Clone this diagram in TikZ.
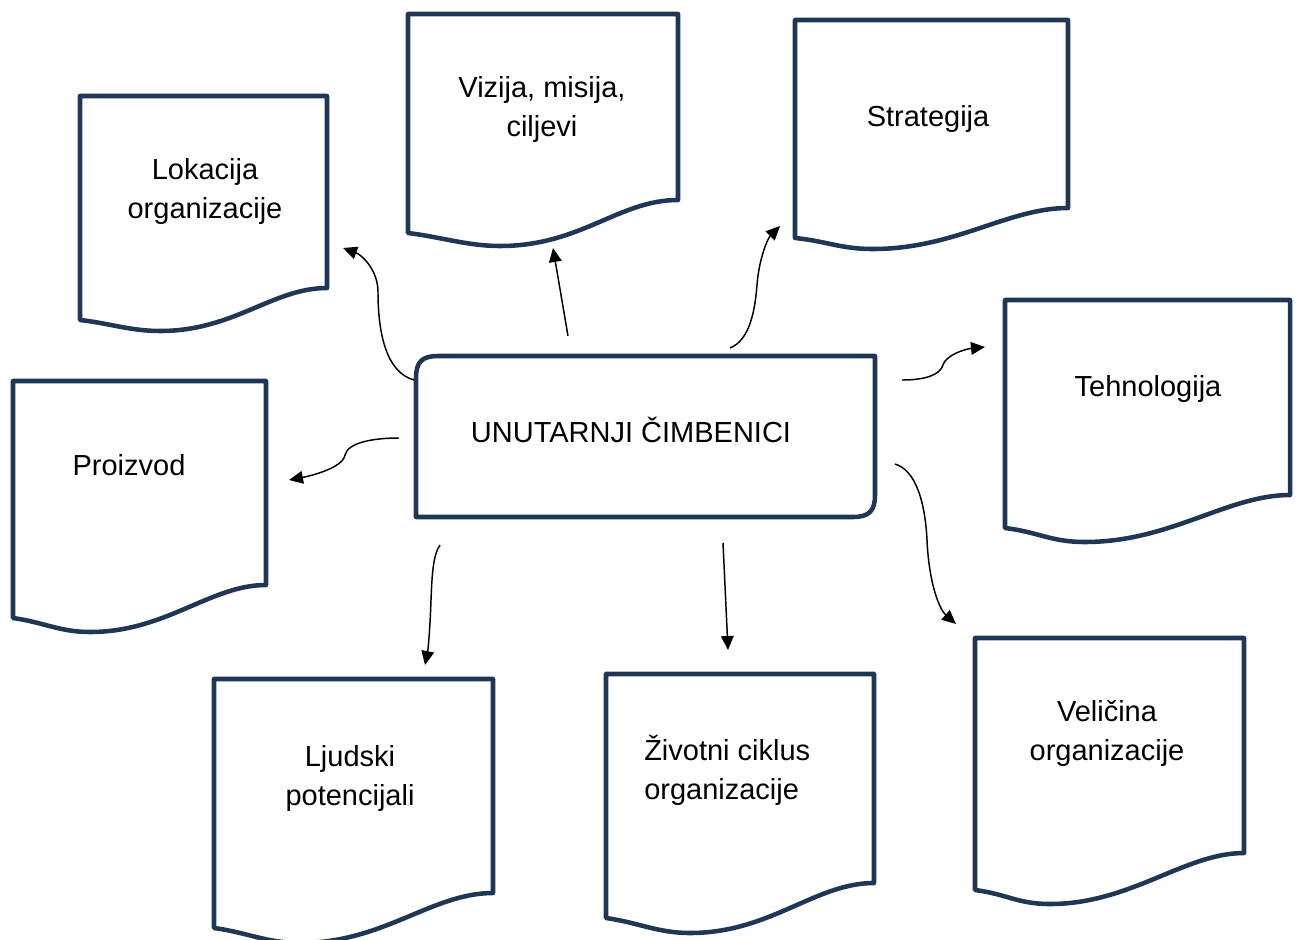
\documentclass[tikz,border=0pt]{standalone}
\usepackage{fontspec}
\setmainfont{Liberation Sans}
\usetikzlibrary{arrows.meta}
\definecolor{navy}{HTML}{1F3754}
\newcommand\docshape[7]{% L T R yR yL xM yM
  \draw[docline] (#1,#5) -- (#1,#2) -- (#3,#2) -- (#3,#4)
    .. controls ({#3-0.22*(#3-#1)},#4) and ({#6+0.3*(#3-#1)},#7) .. (#6,#7)
    .. controls ({#6-0.12*(#3-#1)},#7) and ({#1+0.12*(#3-#1)},{#5+0.3*(#7-#5)}) .. (#1,#5) -- cycle;}
\begin{document}
\begin{tikzpicture}[x=0.75pt,y=-0.75pt,
  docline/.style={draw=navy,line width=3.4pt,line join=round},
  lbl/.style={font=\fontsize{21.75}{29.25}\selectfont,align=center,inner sep=0pt},
  conn/.style={line width=1.1pt,-{Triangle[length=10.5pt,width=9.5pt]}}]
\useasboundingbox (0,0) rectangle (1299,939);
% document shapes
\docshape{80}{96}{327}{288}{320}{160}{331}
\docshape{408}{14}{678}{200}{233}{500}{246}
\docshape{795}{20}{1068}{208}{238}{873}{249}
\docshape{13}{381}{266}{585}{618}{90}{632}
\docshape{214}{679}{493}{893}{928}{300}{943}
\docshape{606}{674}{874}{883}{918}{690}{933}
\docshape{1005}{300}{1290}{495}{528}{1085}{542}
\docshape{975}{638}{1244}{853}{890}{1050}{904}
% labels
\node[lbl] (lok) at (205,191) {Lokacija\\organizacije};
\node[lbl] (viz) at (542,109) {Vizija, misija,\\ciljevi};
\node[lbl] (str) at (928,119) {Strategija};
\node[lbl] (teh) at (1148,389) {Tehnologija};
\node[lbl] (pro) at (129,465) {Proizvod};
\node[lbl] (lju) at (350,778) {Ljudski\\potencijali};
\node[lbl,align=left,anchor=west] (ziv) at (644,770) {Životni ciklus\\organizacije};
\node[lbl] (vel) at (1107,733) {Veličina\\organizacije};
% central box
\node[minimum width=459*0.75pt,minimum height=161*0.75pt,inner sep=0pt] (c) at (645.5,436.5) {};
\draw[docline] (416,378) .. controls (416,362) and (422,356) .. (438,356) -- (875,356) -- (875,495)
  .. controls (875,511) and (869,517) .. (853,517) -- (416,517) -- cycle;
\node[lbl] (ct) at (631,430) {UNUTARNJI ČIMBENICI};
% connector end points
\coordinate (s1) at (414,380); \coordinate (e1) at (343,248);
\coordinate (s2) at (568,336); \coordinate (e2) at (553,248);
\coordinate (s3) at (730,348); \coordinate (e3) at (780,226);
\coordinate (s4) at (902,380); \coordinate (e4) at (985,347);
\coordinate (s5) at (895,464); \coordinate (e5) at (956,624);
\coordinate (s6) at (723,543); \coordinate (e6) at (728,650);
\coordinate (s7) at (440,545); \coordinate (e7) at (425,665);
\coordinate (s8) at (399,438); \coordinate (e8) at (289,480);
% connectors
\draw[conn] (s1) .. controls (385,372) and (378,330) .. (378,292) .. controls (378,270) and (362,255) .. (e1);
\draw[conn] (s2) -- (e2);
\draw[conn] (s3) .. controls (750,340) and (755,310) .. (757,285) .. controls (759,258) and (768,238) .. (e3);
\draw[conn] (s4) .. controls (925,380) and (940,375) .. (943,365) .. controls (946,355) and (965,349) .. (e4);
\draw[conn] (s5) .. controls (915,470) and (925,500) .. (927,540) .. controls (929,585) and (940,610) .. (e5);
\draw[conn] (s6) -- (e6);
\draw[conn] (s7) .. controls (433,555) and (432,575) .. (431,600) .. controls (430,630) and (428,650) .. (e7);
\draw[conn] (s8) .. controls (375,438) and (348,442) .. (345,455) .. controls (343,468) and (310,476) .. (e8);
\end{tikzpicture}
\end{document}
